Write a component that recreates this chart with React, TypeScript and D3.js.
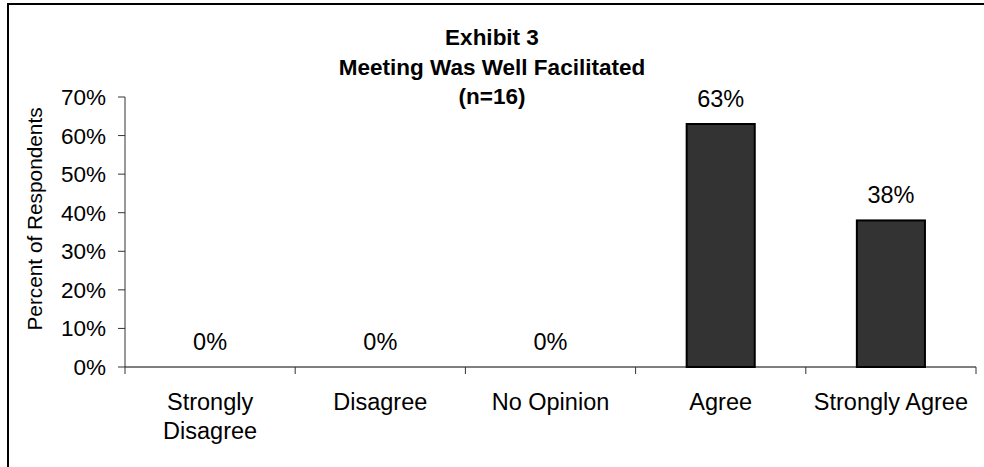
import React from "react";
import * as d3 from "d3";

// Survey responses for "Meeting Was Well Facilitated"
const categories = ["Strongly Disagree", "Disagree", "No Opinion", "Agree", "Strongly Agree"];
const categoryLines = [["Strongly", "Disagree"], ["Disagree"], ["No Opinion"], ["Agree"], ["Strongly Agree"]];
const percents = [0, 0, 0, 63, 38];
const yTicks = [0, 10, 20, 30, 40, 50, 60, 70];
const titleLines = ["Exhibit 3", "Meeting Was Well Facilitated", "(n=16)"];
const yAxisTitle = "Percent of Respondents";

const W = 984;
const H = 467;
const FONT = "'Liberation Sans', Arial, Helvetica, sans-serif";

export default function App() {
  const plot = { left: 125, right: 976, top: 97, bottom: 367 };

  const x = d3
    .scaleBand<string>()
    .domain(categories)
    .range([plot.left, plot.right])
    .paddingInner(0.6)
    .paddingOuter(0.3);

  const y = d3.scaleLinear().domain([0, 70]).range([plot.bottom, plot.top]);

  const step = x.step();
  const boundaries = d3.range(categories.length + 1).map((i) => plot.left + i * step);

  return (
    <svg
      width={W}
      height={H}
      style={{ position: "absolute", left: 0, top: 0, background: "#fff" }}
      fontFamily={FONT}
    >
      {/* chart frame */}
      <path d={`M8,${H} L8,4 L${W},4`} fill="none" stroke="#000" strokeWidth={2} />

      {/* title */}
      {titleLines.map((t, i) => (
        <text
          key={t}
          x={492}
          y={45 + i * 29.5}
          textAnchor="middle"
          fontSize={22.5}
          fontWeight="bold"
          fill="#000"
        >
          {t}
        </text>
      ))}

      {/* y axis */}
      <line x1={plot.left} x2={plot.left} y1={plot.top} y2={plot.bottom} stroke="#333" strokeWidth={1} />
      {yTicks.map((t) => (
        <g key={t}>
          <line x1={plot.left - 7} x2={plot.left} y1={y(t)} y2={y(t)} stroke="#333" strokeWidth={1} />
          <text x={106} y={y(t) + 8} textAnchor="end" fontSize={22.5} fill="#000">
            {`${t}%`}
          </text>
        </g>
      ))}
      <text
        transform={`translate(42,${(plot.top + plot.bottom) / 2 - 13}) rotate(-90)`}
        textAnchor="middle"
        fontSize={20.8}
        fill="#000"
      >
        {yAxisTitle}
      </text>

      {/* bars */}
      {categories.map((c, i) =>
        percents[i] > 0 ? (
          <rect
            key={c}
            x={x(c)}
            y={y(percents[i])}
            width={x.bandwidth()}
            height={plot.bottom - y(percents[i])}
            fill="#333333"
            stroke="#000"
            strokeWidth={2}
          />
        ) : null
      )}

      {/* x axis */}
      <line x1={plot.left} x2={plot.right} y1={plot.bottom} y2={plot.bottom} stroke="#000" strokeWidth={1} />
      {boundaries.map((bx, i) => (
        <line key={i} x1={bx} x2={bx} y1={plot.bottom} y2={plot.bottom + 7} stroke="#333" strokeWidth={1} />
      ))}

      {/* value labels */}
      {categories.map((c, i) => (
        <text
          key={c}
          x={(x(c) as number) + x.bandwidth() / 2}
          y={y(percents[i]) - 17.5}
          textAnchor="middle"
          fontSize={23.5}
          fill="#000"
        >
          {`${percents[i]}%`}
        </text>
      ))}

      {/* category labels */}
      {categories.map((c, i) => (
        <text
          key={c}
          x={(x(c) as number) + x.bandwidth() / 2}
          y={410}
          textAnchor="middle"
          fontSize={23.5}
          fill="#000"
        >
          {categoryLines[i].map((ln, j) => (
            <tspan key={j} x={(x(c) as number) + x.bandwidth() / 2} dy={j === 0 ? 0 : 28.5}>
              {ln}
            </tspan>
          ))}
        </text>
      ))}
    </svg>
  );
}
